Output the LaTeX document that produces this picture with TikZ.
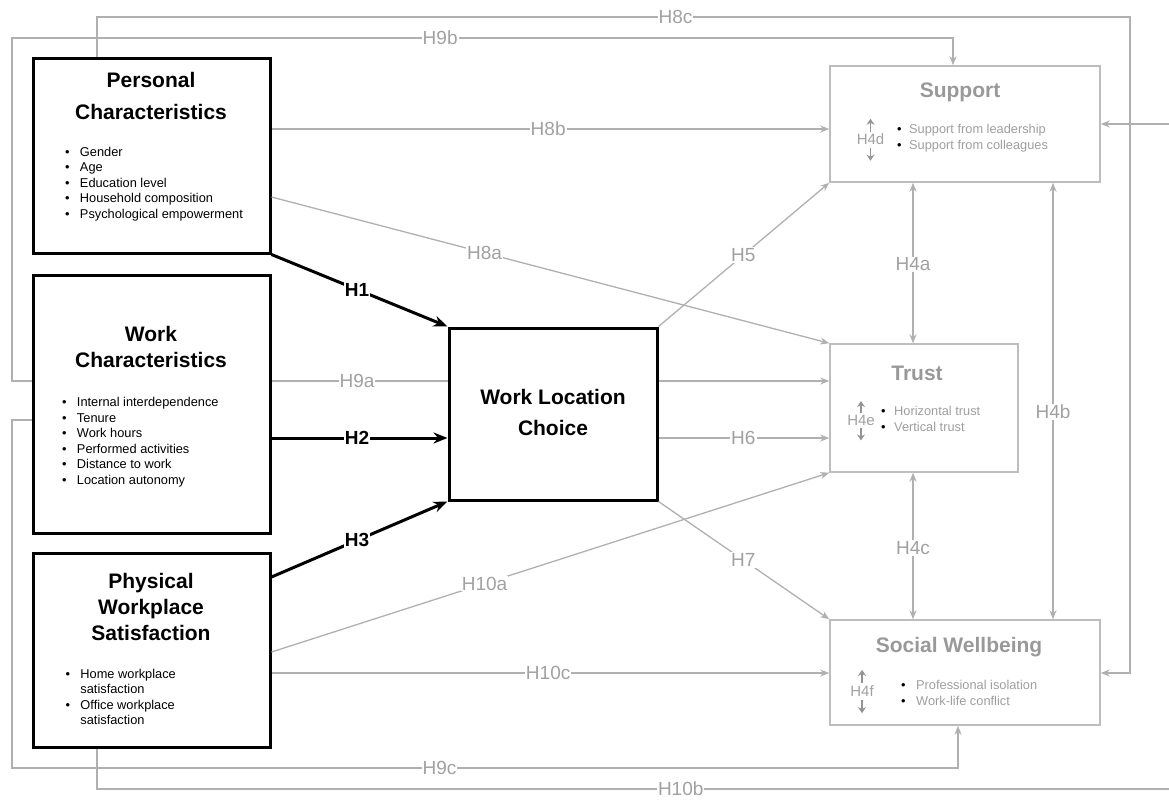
\documentclass[tikz,border=0pt]{standalone}
\usepackage{fontspec}
\setmainfont{Liberation Sans}
\usetikzlibrary{arrows.meta}
\definecolor{lgray}{gray}{0.69}
\definecolor{boxgray}{gray}{0.74}
\definecolor{tgray}{gray}{0.63}
\definecolor{hgray}{gray}{0.60}
\definecolor{ltext}{gray}{0.62}
\definecolor{agray}{gray}{0.58}
\newcommand{\mylist}[2]{\begin{tabular}[t]{@{}l@{\hspace{#1}}l@{}}#2\end{tabular}}
\newcommand{\bk}{\textcolor{black}{\textbullet}}
\begin{document}
\begin{tikzpicture}[x=1pt,y=-1pt,
  bbox/.style={draw=black,line width=3pt,rectangle,inner sep=0pt},
  gbox/.style={draw=boxgray,line width=1.5pt,rectangle,inner sep=0pt},
  gline/.style={draw=lgray,line width=1.3pt,-{Stealth[length=9pt,width=7pt]}},
  gplain/.style={draw=lgray,line width=1.3pt},
  gdbl/.style={draw=lgray,line width=1.3pt,{Stealth[length=9pt,width=7pt]}-{Stealth[length=9pt,width=7pt]}},
  bline/.style={draw=black,line width=3pt,-{Stealth[length=14pt,width=11pt]}},
  sarrow/.style={draw=agray,line width=1.3pt,-{Stealth[length=6pt,width=8pt]}},
  lbl/.style={fill=white,text=tgray,inner sep=1pt,font=\fontsize{19}{19}\selectfont},
  blbl/.style={fill=white,text=black,inner sep=1pt,font=\fontsize{19}{19}\selectfont\bfseries},
  slbl/.style={text=tgray,inner sep=0pt,font=\fontsize{15}{15}\selectfont},
  ttl/.style={anchor=base,font=\fontsize{21}{21}\selectfont\bfseries,inner sep=0pt},
  gttl/.style={ttl,text=hgray},
  lst/.style={anchor=base west,inner sep=0pt,font=\fontsize{12.8}{15.5}\selectfont},
  glst/.style={lst,text=ltext}
]
\useasboundingbox (0,0) rectangle (1169,800);

% ---------- boxes ----------
\node[bbox,minimum width=237pt,minimum height=194pt] (pc) at (151.5,156) {};
\node[bbox,minimum width=237pt,minimum height=258pt] (wc) at (151.5,404) {};
\node[bbox,minimum width=237pt,minimum height=194pt] (pw) at (151.5,650) {};
\node[bbox,minimum width=208pt,minimum height=172pt] (wl) at (553,414) {};
\node[gbox,minimum width=270pt,minimum height=116pt] (sp) at (965,124) {};
\node[gbox,minimum width=188pt,minimum height=128pt] (tr) at (924,408) {};
\node[gbox,minimum width=270pt,minimum height=105pt] (sw) at (965,672.5) {};

% ---------- titles ----------
\node[ttl] (pct1) at (151,88) {Personal};
\node[ttl] (pct2) at (151,119) {Characteristics};
\node[ttl] (wct1) at (151,341) {Work};
\node[ttl] (wct2) at (151,367) {Characteristics};
\node[ttl] (pwt1) at (151,588) {Physical};
\node[ttl] (pwt2) at (151,614) {Workplace};
\node[ttl] (pwt3) at (151,640) {Satisfaction};
\node[ttl] (wlt1) at (553,404) {Work Location};
\node[ttl] (wlt2) at (553,435) {Choice};
\node[gttl] (spt) at (960,97) {Support};
\node[gttl] (trt) at (917,380) {Trust};
\node[gttl] (swt) at (959,652) {Social Wellbeing};

% ---------- lists ----------
\node[lst] (pcl) at (64.8,156) {\mylist{10.5pt}{\textbullet&Gender\\ \textbullet&Age\\ \textbullet&Education level\\ \textbullet&Household composition\\ \textbullet&Psychological empowerment}};
\node[lst] (wcl) at (61.8,406.5) {\mylist{10.5pt}{\textbullet&Internal interdependence\\ \textbullet&Tenure\\ \textbullet&Work hours\\ \textbullet&Performed activities\\ \textbullet&Distance to work\\ \textbullet&Location autonomy}};
\node[lst,font=\fontsize{12.8}{15.3}\selectfont] (pwl) at (65.3,678.5) {\mylist{10.5pt}{\textbullet&Home workplace\\ &satisfaction\\ \textbullet&Office workplace\\ &satisfaction}};
\node[glst,font=\fontsize{12.8}{16}\selectfont] (spl) at (896.8,133.5) {\mylist{7.7pt}{\bk&Support from leadership\\ \bk&Support from colleagues}};
\node[glst,font=\fontsize{12.8}{16}\selectfont] (trl) at (880.8,415.5) {\mylist{8.7pt}{\bk&Horizontal trust\\ \bk&Vertical trust}};
\node[glst] (swl) at (900.8,689.5) {\mylist{10.7pt}{\bk&Professional isolation\\ \bk&Work-life conflict}};

% ---------- inner H4 labels with small arrows ----------
\node[slbl] (h4d) at (870.5,139) {H4d};
\draw[sarrow] ([yshift=1.5pt]h4d.north) -- ++(0,-13);
\draw[sarrow] ([yshift=-3pt]h4d.south) -- ++(0,13);
\node[slbl] (h4e) at (861,420) {H4e};
\draw[sarrow] ([yshift=1.5pt]h4e.north) -- ++(0,-12);
\draw[sarrow] ([yshift=-3pt]h4e.south) -- ++(0,12);
\node[slbl] (h4f) at (862,691) {H4f};
\draw[sarrow] ([yshift=2.5pt]h4f.north) -- ++(0,-13);
\draw[sarrow] ([yshift=-3.5pt]h4f.south) -- ++(0,13);

% ---------- helper coordinates ----------
\coordinate (y129) at (0,129);
\coordinate (y197) at (0,197);
\coordinate (y381) at (0,381);
\coordinate (y438) at (0,438);
\coordinate (y577) at (0,577);
\coordinate (y652) at (0,652);
\coordinate (y673) at (0,673);
\coordinate (x913) at (913,0);
\coordinate (x1053) at (1053,0);
\coordinate (c8a) at (97,17);
\coordinate (c8b) at (1130,17);
\coordinate (c8c) at (1130,673);
\coordinate (c9a) at (12,381);
\coordinate (c9b) at (12,38);
\coordinate (c9c) at (953,38);
\coordinate (d9a) at (12,420);
\coordinate (d9b) at (12,768);
\coordinate (d9c) at (958,768);
\coordinate (e10a) at (97,789);
\coordinate (e10b) at (1182,789);
\coordinate (e10c) at (1182,124);

% ---------- gray connectors ----------
\draw[gline] (pc.north -| c8a) -- (c8a) -- node[lbl,pos=0.56] (l8c) {H8c} (c8b) -- (c8c) -- (sw.east |- c8c);
\draw[gline] (wc.west |- c9a) -- (c9a) -- (c9b) -- node[lbl,pos=0.455] (l9b) {H9b} (c9c) -- (sp.north -| c9c);
\draw[gline] (wc.west |- d9a) -- (d9a) -- (d9b) -- node[lbl,pos=0.452] (l9c) {H9c} (d9c) -- (sw.south -| d9c);
\draw[gline] (pw.south -| e10a) -- (e10a) -- node[lbl,pos=0.538] (l10b) {H10b} (e10b) -- (e10c) -- (sp.east |- e10c);

\draw[gline] (pc.east |- y129) -- node[lbl,pos=0.496] (l8b) {H8b} (sp.west |- y129);
\draw[gline] (pc.east |- y197) -- node[lbl,pos=0.382] (l8a) {H8a} (tr.north west);
\draw[gplain] (wc.east |- y381) -- node[lbl,pos=0.486] (l9a) {H9a} (wl.west |- y381);
\draw[gline] (wl.east |- y381) -- (tr.west |- y381);
\draw[gline] (pw.east |- y652) -- node[lbl,pos=0.382] (l10a) {H10a} (tr.south west);
\draw[gline] (pw.east |- y673) -- node[lbl,pos=0.496] (l10c) {H10c} (sw.west |- y673);
\draw[gline] (wl.north east) -- node[lbl,pos=0.497] (l5) {H5} (sp.south west);
\draw[gline] (wl.east |- y438) -- node[lbl,pos=0.497] (l6) {H6} (tr.west |- y438);
\draw[gline] (wl.south east) -- node[lbl,pos=0.497] (l7) {H7} (sw.north west);

\draw[gdbl] (sp.south -| x913) -- node[lbl,pos=0.509] (l4a) {H4a} (tr.north -| x913);
\draw[gdbl] (tr.south -| x913) -- node[lbl,pos=0.514] (l4c) {H4c} (sw.north -| x913);
\draw[gdbl] (sp.south -| x1053) -- node[lbl,pos=0.525] (l4b) {H4b} (sw.north -| x1053);

% ---------- black connectors ----------
\draw[bline] (pc.south east) -- node[blbl,pos=0.486] (l1) {H1} (wl.north west);
\draw[bline] (wc.east |- y438) -- node[blbl,pos=0.486] (l2) {H2} (wl.west |- y438);
\draw[bline] (pw.east |- y577) -- node[blbl,pos=0.486] (l3) {H3} (wl.south west);
\end{tikzpicture}
\end{document}
